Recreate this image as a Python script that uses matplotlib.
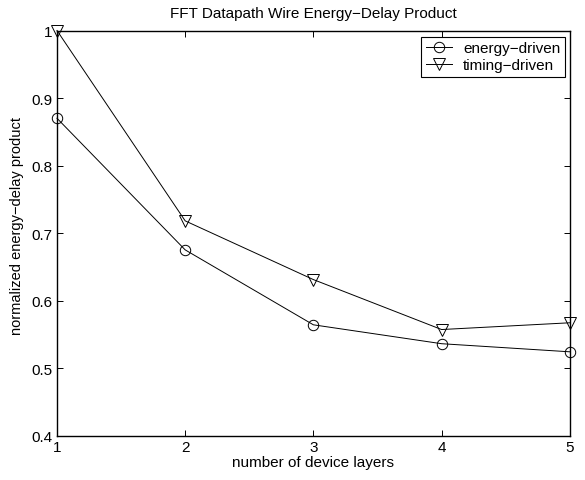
import matplotlib
matplotlib.use('Agg')
import matplotlib.pyplot as plt

# normalized energy-delay product per number of device layers
layers = [1, 2, 3, 4, 5]
energy_driven = [0.870, 0.675, 0.564, 0.536, 0.524]
timing_driven = [1.000, 0.718, 0.631, 0.557, 0.567]

plt.rcParams['font.family'] = ['Liberation Sans', 'DejaVu Sans']
plt.rcParams['font.size'] = 11

fig = plt.figure(figsize=(5.85, 4.81), dpi=100)
ax = fig.add_axes([0.0974, 0.0925, 0.8766, 0.842])

ax.plot(layers, energy_driven, color='k', lw=0.7, marker='o', markersize=7.5,
        markerfacecolor='none', markeredgewidth=0.7, label='energy\u2212driven',
        clip_on=False)
ax.plot(layers, timing_driven, color='k', lw=0.7, marker='v', markersize=8,
        markerfacecolor='none', markeredgewidth=0.7, label='timing\u2212driven',
        clip_on=False)

ax.set_xlim(1, 5)
ax.set_ylim(0.4, 1.0)
ax.set_xticks([1, 2, 3, 4, 5])
ax.set_yticks([0.4, 0.5, 0.6, 0.7, 0.8, 0.9, 1.0])
ax.set_yticklabels(['0.4', '0.5', '0.6', '0.7', '0.8', '0.9', '1'])
ax.tick_params(direction='in', top=True, right=True, length=4, width=0.7, pad=3)
for s in ax.spines.values():
    s.set_linewidth(1.0)

ax.set_xlabel('number of device layers', labelpad=1)
ax.set_ylabel('normalized energy\u2212delay product', fontsize=10.5)
ax.yaxis.set_label_coords(-0.065, 0.52)
ax.set_title('FFT Datapath Wire Energy\u2212Delay Product', fontsize=11, pad=10)

leg = ax.legend(loc='upper right', bbox_to_anchor=(0.9658, 0.9216),
                bbox_transform=fig.transFigure, borderaxespad=0,
                fancybox=False, framealpha=1, edgecolor='k', fontsize=11,
                borderpad=0.3, labelspacing=0.2, handlelength=1.7,
                handletextpad=0.75)
leg.get_frame().set_linewidth(0.8)

fig.savefig('out.png', dpi=100)
